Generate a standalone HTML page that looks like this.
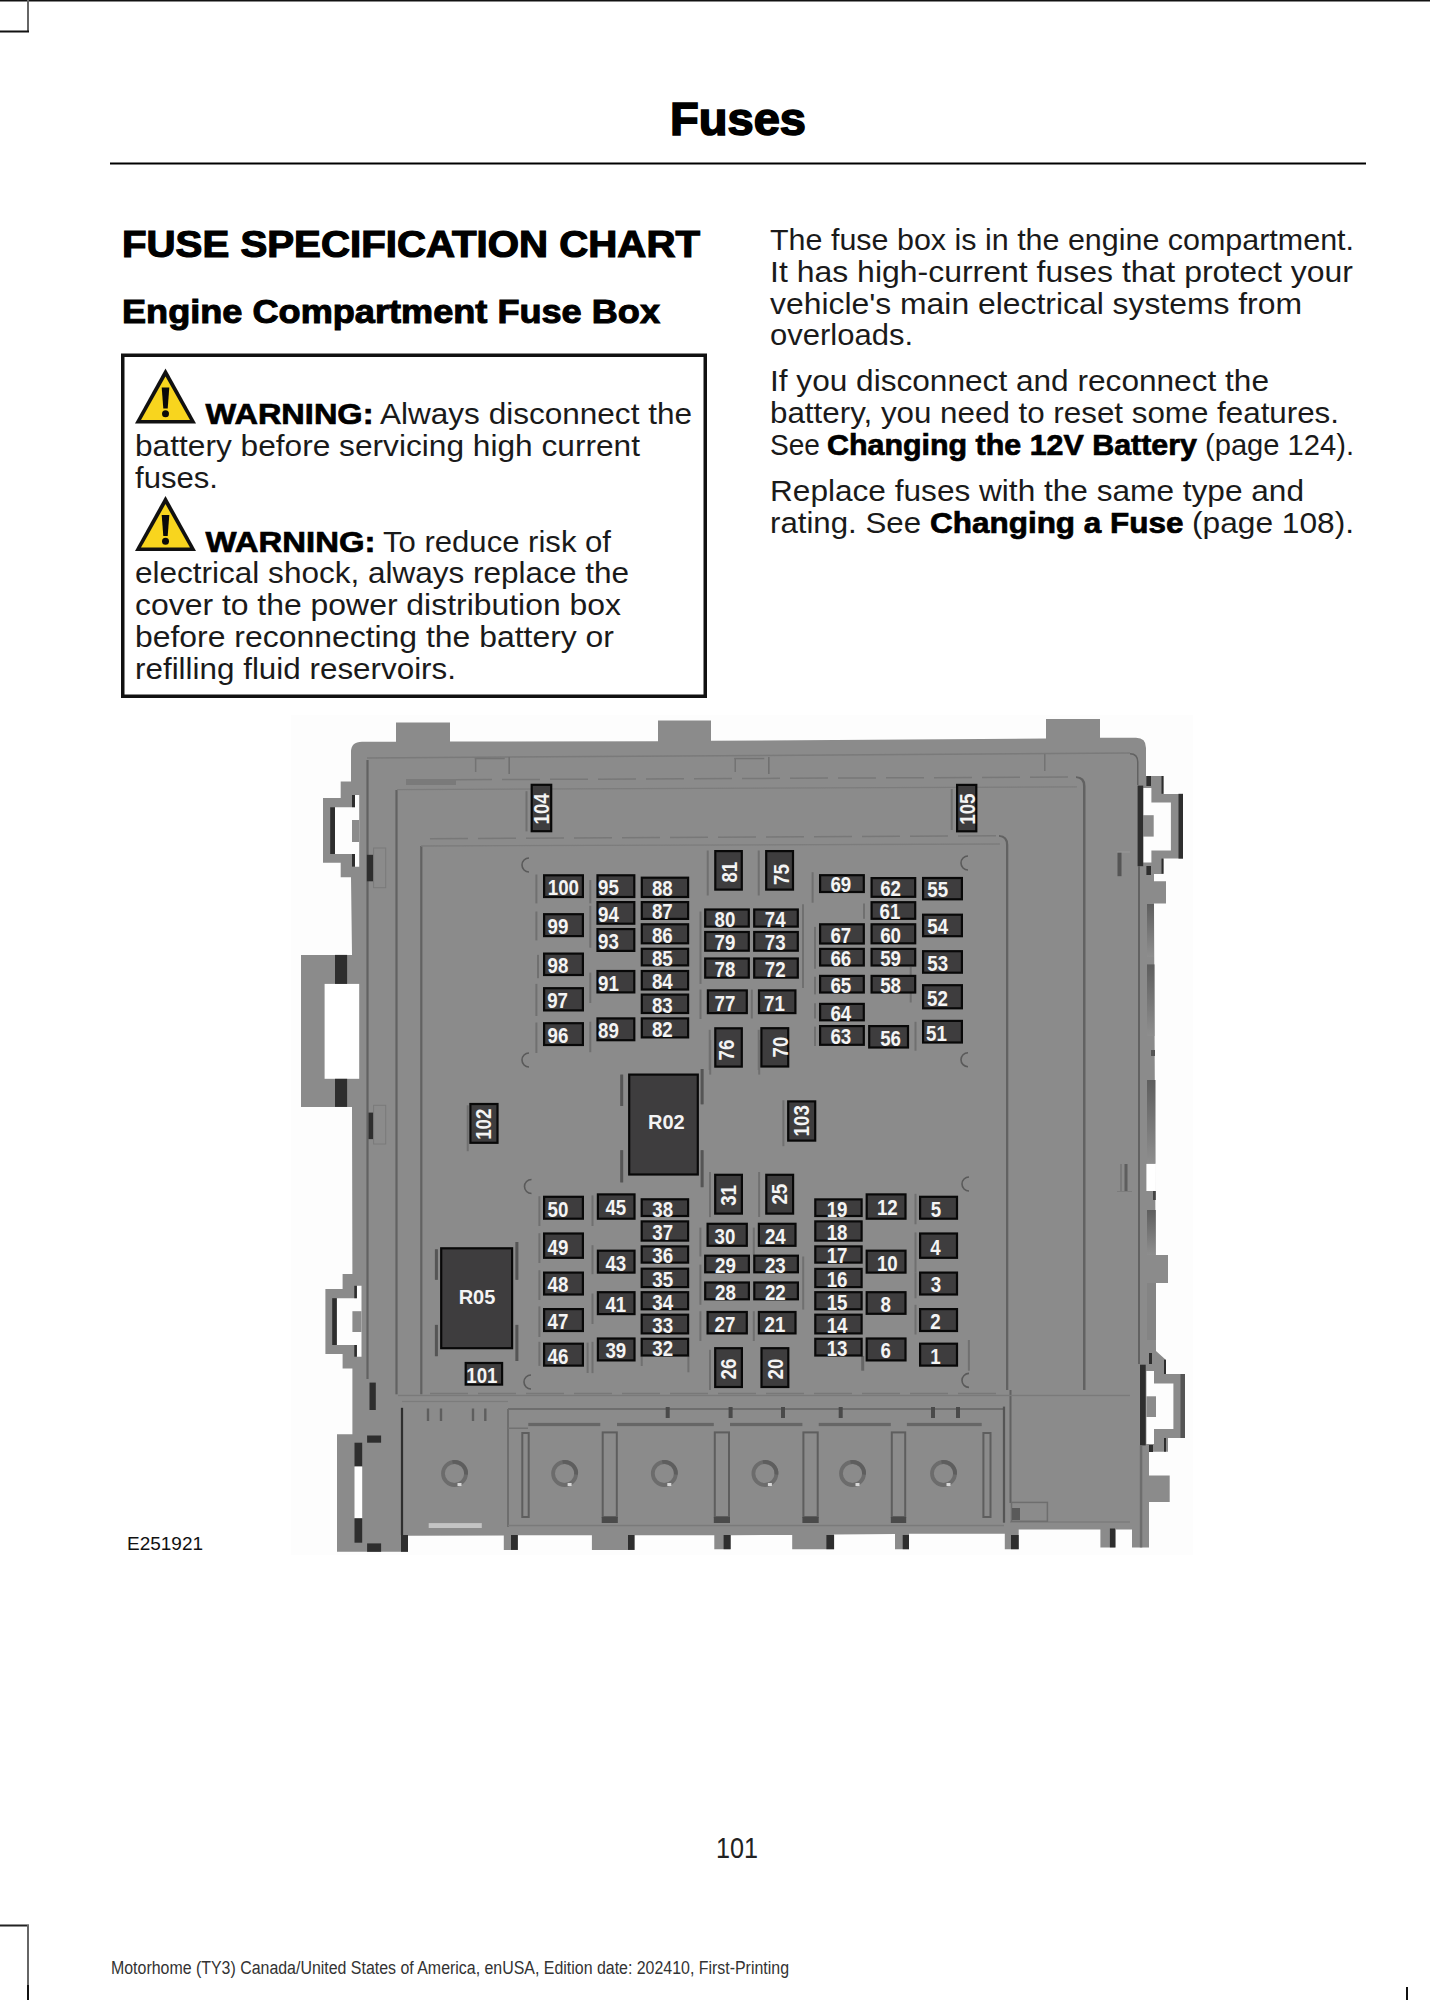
<!DOCTYPE html>
<html><head><meta charset="utf-8"><title>Fuses</title>
<style>html,body{margin:0;padding:0;background:#fff;width:1430px;height:2000px;overflow:hidden}svg{display:block}</style>
</head><body>
<svg width="1430" height="2000" viewBox="0 0 1430 2000" font-family="Liberation Sans, sans-serif">
<rect width="1430" height="2000" fill="#fff"/>
<rect x="0" y="0" width="1430" height="1.5" fill="#111"/><rect x="27" y="0" width="2" height="32" fill="#666"/><rect x="0" y="30.5" width="29" height="2" fill="#111"/><rect x="0" y="1924.5" width="29" height="2" fill="#222"/><rect x="27" y="1925" width="2" height="60" fill="#666"/><rect x="27" y="1985" width="2" height="15" fill="#111"/><rect x="1406" y="1987" width="2" height="13" fill="#111"/><text x="670" y="135" font-size="46" font-weight="bold" textLength="136" lengthAdjust="spacingAndGlyphs" stroke="#000" stroke-width="1.6">Fuses</text><rect x="110" y="162.5" width="1256" height="2" fill="#000"/><text x="122" y="257" font-size="37" font-weight="bold" textLength="578" lengthAdjust="spacingAndGlyphs" stroke="#000" stroke-width="1.2">FUSE SPECIFICATION CHART</text><text x="122" y="323" font-size="33" font-weight="bold" textLength="538" lengthAdjust="spacingAndGlyphs" stroke="#000" stroke-width="1">Engine Compartment Fuse Box</text><text x="770" y="250" font-size="30" fill="#1a1a1a" textLength="584" lengthAdjust="spacingAndGlyphs"><tspan>The fuse box is in the engine compartment.</tspan></text><text x="770" y="282" font-size="30" fill="#1a1a1a" textLength="583" lengthAdjust="spacingAndGlyphs"><tspan>It has high-current fuses that protect your</tspan></text><text x="770" y="313.5" font-size="30" fill="#1a1a1a" textLength="532" lengthAdjust="spacingAndGlyphs"><tspan>vehicle's main electrical systems from</tspan></text><text x="770" y="345" font-size="30" fill="#1a1a1a" textLength="143" lengthAdjust="spacingAndGlyphs"><tspan>overloads.</tspan></text><text x="770" y="391" font-size="30" fill="#1a1a1a" textLength="499" lengthAdjust="spacingAndGlyphs"><tspan>If you disconnect and reconnect the</tspan></text><text x="770" y="423" font-size="30" fill="#1a1a1a" textLength="569" lengthAdjust="spacingAndGlyphs"><tspan>battery, you need to reset some features.</tspan></text><text x="770" y="501" font-size="30" fill="#1a1a1a" textLength="534" lengthAdjust="spacingAndGlyphs"><tspan>Replace fuses with the same type and</tspan></text><text x="770" y="454.5" font-size="30" fill="#1a1a1a" textLength="50" lengthAdjust="spacingAndGlyphs">See</text><text x="827" y="454.5" font-size="30" font-weight="bold" fill="#000" stroke="#000" stroke-width="0.7" textLength="370" lengthAdjust="spacingAndGlyphs">Changing the 12V Battery</text><text x="1205" y="454.5" font-size="30" fill="#1a1a1a" textLength="149" lengthAdjust="spacingAndGlyphs">(page 124).</text><text x="770" y="533" font-size="30" fill="#1a1a1a" textLength="151" lengthAdjust="spacingAndGlyphs">rating.  See</text><text x="930" y="533" font-size="30" font-weight="bold" fill="#000" stroke="#000" stroke-width="0.7" textLength="253.5" lengthAdjust="spacingAndGlyphs">Changing a Fuse</text><text x="1192" y="533" font-size="30" fill="#1a1a1a" textLength="162" lengthAdjust="spacingAndGlyphs">(page 108).</text><rect x="122.75" y="355.25" width="582.5" height="341" fill="none" stroke="#111" stroke-width="3.5"/><path d="M165.5 368.5 L196.0 423.5 L135.0 423.5 Z" fill="#111"/><path d="M165.5 376.5 L190.0 420.0 L141.0 420.0 Z" fill="#f8d51e"/><path d="M161.7 387.5 L169.3 387.5 L167.7 408.5 L163.3 408.5 Z" fill="#0a0a0a"/><circle cx="165.5" cy="413.8" r="3.5" fill="#0a0a0a"/><path d="M165.5 496 L196.0 551 L135.0 551 Z" fill="#111"/><path d="M165.5 504 L190.0 547.5 L141.0 547.5 Z" fill="#f8d51e"/><path d="M161.7 515 L169.3 515 L167.7 536 L163.3 536 Z" fill="#0a0a0a"/><circle cx="165.5" cy="541.3" r="3.5" fill="#0a0a0a"/><text x="135" y="456" font-size="30" fill="#1a1a1a" textLength="505" lengthAdjust="spacingAndGlyphs"><tspan>battery before servicing high current</tspan></text><text x="135" y="487.5" font-size="30" fill="#1a1a1a" textLength="83" lengthAdjust="spacingAndGlyphs"><tspan>fuses.</tspan></text><text x="135" y="582.5" font-size="30" fill="#1a1a1a" textLength="494" lengthAdjust="spacingAndGlyphs"><tspan>electrical shock, always replace the</tspan></text><text x="135" y="614.5" font-size="30" fill="#1a1a1a" textLength="486" lengthAdjust="spacingAndGlyphs"><tspan>cover to the power distribution box</tspan></text><text x="135" y="646.5" font-size="30" fill="#1a1a1a" textLength="479" lengthAdjust="spacingAndGlyphs"><tspan>before reconnecting the battery or</tspan></text><text x="135" y="678.5" font-size="30" fill="#1a1a1a" textLength="321" lengthAdjust="spacingAndGlyphs"><tspan>refilling fluid reservoirs.</tspan></text><text x="205.5" y="423.5" font-size="30" font-weight="bold" fill="#000" stroke="#000" stroke-width="0.7" textLength="168" lengthAdjust="spacingAndGlyphs">WARNING:</text><text x="380" y="423.5" font-size="30" fill="#1a1a1a" textLength="312" lengthAdjust="spacingAndGlyphs">Always disconnect the</text><text x="205.5" y="551.5" font-size="30" font-weight="bold" fill="#000" stroke="#000" stroke-width="0.7" textLength="170" lengthAdjust="spacingAndGlyphs">WARNING:</text><text x="383" y="551.5" font-size="30" fill="#1a1a1a" textLength="228" lengthAdjust="spacingAndGlyphs">To reduce risk of</text><text x="127" y="1550" font-size="19" fill="#111" textLength="76" lengthAdjust="spacingAndGlyphs">E251921</text><text x="716" y="1858" font-size="30" fill="#222" textLength="42" lengthAdjust="spacingAndGlyphs">101</text><text x="111" y="1974" font-size="18" fill="#333" textLength="678" lengthAdjust="spacingAndGlyphs">Motorhome (TY3) Canada/United States of America, enUSA, Edition date: 202410, First-Printing</text>
<rect x="291.0" y="715.0" width="902.0" height="840.0" fill="#fdfdfd"/>
<path d="M351 752 Q351 741.8 362 741.8 L396 741.8 L396 722.5 L450 722.5 L450 741.5 L658 741.2 L658 720.5 L711 720.5 L711 740.8 L1046 738.5 L1046 719 L1100 719 L1100 737.8 L1136 737.8 Q1146 737.8 1146 748 L1146 776 L1163.5 776 L1163.5 794 L1183 794 L1183 858.6 L1163.5 858.6 L1163.5 874 L1154 874 L1154 881.3 L1166 881.3 L1166 903.4 L1154 903.4 L1156 1351 L1166 1360 L1166 1374 L1185 1374 L1185 1438 L1168 1438 L1168 1451.7 L1149 1451.7 L1149 1475.6 L1169.7 1475.6 L1169.7 1502 L1149 1502 L1149 1547.4 L1132 1547.4 L1132 1529.5 L1116 1529.5 L1116 1547.4 L1100.4 1547.4 L1100.4 1529.5 L1018.7 1529.6 L1018.7 1549.2 L1004.8 1549.2 L1004.8 1533.8 L909 1533.8 L909 1549.2 L895 1549.2 L895 1534 L834 1534.5 L834 1549.2 L792.2 1549.2 L792.2 1535 L730.6 1535.2 L730.6 1549.2 L714.3 1549.2 L714.3 1535.2 L634.5 1535.2 L634.5 1549.9 L591.9 1549.9 L591.9 1535.2 L517.8 1535.2 L517.8 1549.9 L503.8 1549.9 L503.8 1535.5 L408 1535.7 L408 1551.8 L337 1551.8 L337 1434.3 L352.4 1434.3 L352.4 1368.4 L342.6 1368.4 L342.6 1354 L325.4 1354 L325.4 1289 L342.6 1289 L342.6 1274 L352.4 1274 L352 1107 L301 1107 L301 955 L352 955 L351 877.3 L340.7 877.3 L340.7 862.8 L323 862.8 L323 798 L340.7 798 L340.7 781.6 L351 781.6 Z" fill="#8b8b8b"/>
<rect x="1150.0" y="1255.0" width="18.0" height="28.0" fill="#8b8b8b"/>
<path d="M335 807.3 L359.2 807.3 L359.2 854 L335 854 Z M352 795 L359.2 795 L359.2 807.3 L352 807.3 Z M352 854 L359.2 854 L359.2 866.8 L352 866.8 Z" fill="#fdfdfd"/>
<rect x="352.0" y="820.0" width="7.2" height="22.0" fill="#8b8b8b"/>
<rect x="330.2" y="807.3" width="4.8" height="46.7" fill="#2e2e2e"/>
<rect x="352.0" y="795.0" width="3.0" height="12.3" fill="#2e2e2e"/>
<rect x="352.0" y="854.0" width="3.0" height="12.8" fill="#2e2e2e"/>
<rect x="324.6" y="983.9" width="34.6" height="94.9" fill="#ffffff"/>
<rect x="335.0" y="954.9" width="12.1" height="29.0" fill="#2e2e2e"/>
<rect x="335.0" y="1078.8" width="12.1" height="28.1" fill="#2e2e2e"/>
<path d="M336.8 1298.2 L361.5 1298.2 L361.5 1345 L336.8 1345 Z M356.9 1285.8 L361.5 1285.8 L361.5 1298.2 L356.9 1298.2 Z M356.9 1345 L361.5 1345 L361.5 1356.7 L356.9 1356.7 Z" fill="#fdfdfd"/>
<rect x="352.4" y="1311.2" width="9.1" height="20.8" fill="#8b8b8b"/>
<rect x="332.2" y="1298.2" width="4.6" height="46.8" fill="#2e2e2e"/>
<rect x="354.3" y="1285.8" width="2.6" height="12.4" fill="#2e2e2e"/>
<rect x="354.3" y="1345.0" width="2.6" height="11.7" fill="#2e2e2e"/>
<rect x="367.1" y="1435.5" width="14.0" height="7.2" fill="#2e2e2e"/>
<rect x="354.5" y="1442.7" width="7.7" height="23.8" fill="#2e2e2e"/>
<rect x="354.5" y="1466.5" width="7.7" height="51.8" fill="#ffffff"/>
<rect x="354.5" y="1518.3" width="7.7" height="24.4" fill="#2e2e2e"/>
<rect x="367.1" y="1543.4" width="14.0" height="8.4" fill="#2e2e2e"/>
<rect x="400.9" y="1407.8" width="2.2" height="127.2" fill="#2e2e2e"/>
<rect x="401.0" y="1535.0" width="7.0" height="16.8" fill="#2e2e2e"/>
<path d="M1143.2 802.6 L1170.9 802.6 L1170.9 850.4 L1143.2 850.4 Z M1143.2 788 L1151.4 788 L1151.4 802.6 L1143.2 802.6 Z M1143.2 850.4 L1151.4 850.4 L1151.4 862.4 L1143.2 862.4 Z" fill="#fdfdfd"/>
<rect x="1143.2" y="815.2" width="10.5" height="21.4" fill="#8b8b8b"/>
<rect x="1137.6" y="785.6" width="5.6" height="80.6" fill="#2e2e2e"/>
<rect x="1178.5" y="793.8" width="4.5" height="64.8" fill="#2e2e2e"/>
<rect x="1161.5" y="776.0" width="2.0" height="17.8" fill="#2e2e2e"/>
<rect x="1161.5" y="858.6" width="2.0" height="15.1" fill="#2e2e2e"/>
<rect x="1146.4" y="776.0" width="4.6" height="10.0" fill="#2e2e2e"/>
<rect x="1146.4" y="866.0" width="4.6" height="9.0" fill="#2e2e2e"/>
<defs><linearGradient id="gb" x1="0" y1="0" x2="0" y2="1"><stop offset="0" stop-color="#5e5e5e"/><stop offset="1" stop-color="#8e8e8e"/></linearGradient></defs>
<rect x="1147.0" y="904.0" width="7.0" height="53.0" fill="url(#gb)"/>
<rect x="1147.0" y="964.4" width="7.5" height="71.6" fill="url(#gb)"/>
<rect x="1151.0" y="1050.0" width="4.0" height="6.0" fill="#555"/>
<rect x="1147.0" y="1080.0" width="8.5" height="83.8" fill="url(#gb)"/>
<rect x="1153.0" y="1191.0" width="2.8" height="9.0" fill="#444"/>
<rect x="1147.0" y="1210.0" width="8.8" height="45.0" fill="url(#gb)"/>
<rect x="1146.4" y="1163.9" width="9.4" height="27.1" fill="#ffffff"/>
<rect x="1147.0" y="1283.0" width="9.0" height="57.0" fill="#848484"/>
<path d="M1146.4 1383.6 L1173.4 1383.6 L1173.4 1429 L1146.4 1429 Z M1146.4 1371 L1154 1371 L1154 1383.6 L1146.4 1383.6 Z M1146.4 1429 L1154 1429 L1154 1444 L1146.4 1444 Z" fill="#fdfdfd"/>
<rect x="1146.4" y="1396.3" width="9.6" height="20.7" fill="#8b8b8b"/>
<rect x="1140.0" y="1364.7" width="5.7" height="80.7" fill="#2e2e2e"/>
<rect x="1180.5" y="1374.0" width="4.5" height="64.0" fill="#555555"/>
<rect x="1164.0" y="1359.7" width="2.0" height="14.3" fill="#2e2e2e"/>
<rect x="1164.0" y="1438.0" width="2.0" height="13.7" fill="#2e2e2e"/>
<rect x="1149.0" y="1353.0" width="3.0" height="11.0" fill="#2e2e2e"/>
<rect x="1149.0" y="1445.0" width="4.0" height="7.0" fill="#2e2e2e"/>
<rect x="1139.8" y="1445.4" width="2.5" height="102.0" fill="#6e6e6e"/>
<rect x="511.0" y="1535.0" width="6.8" height="14.9" fill="#2e2e2e"/>
<rect x="628.0" y="1535.0" width="6.5" height="14.9" fill="#2e2e2e"/>
<rect x="723.6" y="1535.0" width="7.0" height="14.2" fill="#2e2e2e"/>
<rect x="826.4" y="1535.0" width="7.7" height="14.2" fill="#2e2e2e"/>
<rect x="902.7" y="1535.0" width="6.3" height="14.2" fill="#2e2e2e"/>
<rect x="1011.0" y="1535.0" width="7.7" height="14.2" fill="#2e2e2e"/>
<rect x="1109.9" y="1528.5" width="5.1" height="18.9" fill="#2e2e2e"/>
<rect x="366.4" y="760.0" width="2.2" height="619.0" fill="#626262"/>
<path d="M367 758 L1130 753" stroke="#7a7a7a" stroke-width="1.5"/>
<path d="M1130 752.9 Q1138.5 753 1138.5 762 L1138.5 785 L1137 785 L1137 762 Q1137 754.5 1130 754.4 Z" fill="#626262"/>
<rect x="1138.0" y="866.0" width="2.0" height="498.0" fill="#626262"/>
<rect x="395.4" y="790.0" width="2.2" height="604.3" fill="#626262"/>
<path d="M397 789.6 L1077 786.9" stroke="#7c7c7c" stroke-width="1.3"/>
<path d="M1076 776.3 Q1085.5 776.5 1085.5 786 L1085.5 1390 L1083 1390 L1083 786 Q1083 778.5 1076 778 Z" fill="#626262"/>
<rect x="420.2" y="846.0" width="2.2" height="548.3" fill="#626262"/>
<path d="M421 846 L1000 844" stroke="#7c7c7c" stroke-width="1.3"/>
<path d="M999 835 Q1008.3 835.3 1008.3 845 L1008.3 1390 L1006 1390 L1006 845 Q1006 837.3 999 836.8 Z" fill="#626262"/>
<rect x="1009.5" y="1390.0" width="2.0" height="113.0" fill="#626262"/>
<path d="M406 780 L1077 777" stroke="#787878" stroke-width="1.5" stroke-dasharray="38 10" fill="none"/>
<path d="M430 838.7 L1000 835.8" stroke="#787878" stroke-width="1.5" stroke-dasharray="38 10" fill="none"/>
<path d="M430 1393.5 L1004 1393.5" stroke="#787878" stroke-width="1.5" stroke-dasharray="38 10" fill="none"/>
<rect x="398.0" y="1394.8" width="732.0" height="1.3" fill="#7a7a7a"/>
<rect x="402.0" y="1400.9" width="106.0" height="1.2" fill="#7c7c7c"/>
<rect x="406.0" y="779.0" width="50.0" height="6.0" fill="#7a7a7a"/>
<rect x="474.7" y="757.8" width="30.0" height="1.5" fill="#737373"/>
<rect x="474.9" y="758.0" width="1.5" height="14.0" fill="#737373"/>
<rect x="508.4" y="757.0" width="1.6" height="17.0" fill="#707070"/>
<rect x="734.3" y="757.8" width="30.0" height="1.5" fill="#737373"/>
<rect x="734.5" y="758.0" width="1.5" height="14.0" fill="#737373"/>
<rect x="768.0" y="757.0" width="1.6" height="17.0" fill="#707070"/>
<rect x="1044.0" y="754.0" width="1.5" height="17.0" fill="#737373"/>
<rect x="1117.5" y="852.3" width="4.0" height="23.9" fill="#555555"/>
<rect x="1117.0" y="851.5" width="13.0" height="1.0" fill="#9a9a9a"/>
<rect x="366.9" y="854.8" width="6.7" height="26.5" fill="#2e2e2e"/>
<rect x="373.6" y="848" width="12.1" height="39.7" fill="none" stroke="#7a7a7a" stroke-width="1"/>
<rect x="368.5" y="1112.6" width="5.1" height="26.5" fill="#2e2e2e"/>
<rect x="373.6" y="1105.3" width="12.1" height="38.7" fill="none" stroke="#7a7a7a" stroke-width="1"/>
<rect x="369.5" y="1382.6" width="6.3" height="27.4" fill="#2e2e2e"/>
<rect x="508.0" y="1408.0" width="496.0" height="2.0" fill="#6e6e6e"/>
<rect x="507.0" y="1409.0" width="2.0" height="118.0" fill="#6e6e6e"/>
<rect x="1002.9" y="1406.6" width="2.2" height="116.1" fill="#555555"/>
<rect x="528.3" y="1422.9" width="72.0" height="3.2" fill="#666666"/>
<rect x="617.0" y="1422.9" width="96.8" height="3.2" fill="#666666"/>
<rect x="730.0" y="1422.9" width="72.4" height="3.2" fill="#666666"/>
<rect x="818.7" y="1422.9" width="72.1" height="3.2" fill="#666666"/>
<rect x="906.9" y="1422.9" width="74.8" height="3.2" fill="#666666"/>
<rect x="508.0" y="1427.5" width="20.0" height="1.5" fill="#727272"/>
<rect x="508.0" y="1524.8" width="496.0" height="1.5" fill="#7a7a7a"/>
<rect x="1010.0" y="1521.4" width="120.0" height="1.2" fill="#7a7a7a"/>
<rect x="665.7" y="1407.0" width="4.0" height="11.0" fill="#4a4a4a"/>
<rect x="728.6" y="1407.0" width="4.0" height="11.0" fill="#4a4a4a"/>
<rect x="781.0" y="1407.0" width="4.0" height="11.0" fill="#4a4a4a"/>
<rect x="838.7" y="1407.0" width="4.0" height="11.0" fill="#4a4a4a"/>
<rect x="931.0" y="1407.0" width="4.0" height="11.0" fill="#4a4a4a"/>
<rect x="956.0" y="1407.0" width="4.0" height="11.0" fill="#4a4a4a"/>
<rect x="602.7" y="1432.4" width="14.099999999999909" height="84.6" fill="none" stroke="#5e5e5e" stroke-width="2"/>
<rect x="601.7" y="1517.0" width="16.1" height="6.0" fill="#4a4a4a"/>
<rect x="714.8" y="1432.4" width="14.200000000000045" height="84.6" fill="none" stroke="#5e5e5e" stroke-width="2"/>
<rect x="713.8" y="1517.0" width="16.2" height="6.0" fill="#4a4a4a"/>
<rect x="803.4" y="1432.4" width="14.300000000000068" height="84.6" fill="none" stroke="#5e5e5e" stroke-width="2"/>
<rect x="802.4" y="1517.0" width="16.3" height="6.0" fill="#4a4a4a"/>
<rect x="891.8" y="1432.4" width="13.400000000000091" height="84.6" fill="none" stroke="#5e5e5e" stroke-width="2"/>
<rect x="890.8" y="1517.0" width="15.4" height="6.0" fill="#4a4a4a"/>
<rect x="522.3" y="1433" width="6.400000000000091" height="84" fill="none" stroke="#5e5e5e" stroke-width="2"/>
<rect x="983.4" y="1433" width="7.100000000000023" height="84" fill="none" stroke="#5e5e5e" stroke-width="2"/>
<rect x="1011.5" y="1502.4" width="35.9" height="18.9" fill="none" stroke="#6e6e6e" stroke-width="1.5"/>
<rect x="1012.0" y="1508.0" width="8.0" height="12.0" fill="#5a5a5a"/>
<circle cx="454.5" cy="1473.5" r="11.5" fill="none" stroke="#6c6c6c" stroke-width="3.8"/>
<path d="M452.5 1462 A11.5 11.5 0 0 1 466.0 1474.5" fill="none" stroke="#5e5e5e" stroke-width="3.8"/>
<rect x="457.5" y="1483.0" width="4.0" height="3.0" fill="#d8d8d8"/>
<circle cx="564.6" cy="1473.5" r="11.5" fill="none" stroke="#6c6c6c" stroke-width="3.8"/>
<path d="M562.6 1462 A11.5 11.5 0 0 1 576.1 1474.5" fill="none" stroke="#5e5e5e" stroke-width="3.8"/>
<rect x="567.6" y="1483.0" width="4.0" height="3.0" fill="#d8d8d8"/>
<circle cx="664.3" cy="1473.5" r="11.5" fill="none" stroke="#6c6c6c" stroke-width="3.8"/>
<path d="M662.3 1462 A11.5 11.5 0 0 1 675.8 1474.5" fill="none" stroke="#5e5e5e" stroke-width="3.8"/>
<rect x="667.3" y="1483.0" width="4.0" height="3.0" fill="#d8d8d8"/>
<circle cx="764.9" cy="1473.5" r="11.5" fill="none" stroke="#6c6c6c" stroke-width="3.8"/>
<path d="M762.9 1462 A11.5 11.5 0 0 1 776.4 1474.5" fill="none" stroke="#5e5e5e" stroke-width="3.8"/>
<rect x="767.9" y="1483.0" width="4.0" height="3.0" fill="#d8d8d8"/>
<circle cx="852.5" cy="1473.5" r="11.5" fill="none" stroke="#6c6c6c" stroke-width="3.8"/>
<path d="M850.5 1462 A11.5 11.5 0 0 1 864.0 1474.5" fill="none" stroke="#5e5e5e" stroke-width="3.8"/>
<rect x="855.5" y="1483.0" width="4.0" height="3.0" fill="#d8d8d8"/>
<circle cx="943.5" cy="1473.5" r="11.5" fill="none" stroke="#6c6c6c" stroke-width="3.8"/>
<path d="M941.5 1462 A11.5 11.5 0 0 1 955.0 1474.5" fill="none" stroke="#5e5e5e" stroke-width="3.8"/>
<rect x="946.5" y="1483.0" width="4.0" height="3.0" fill="#d8d8d8"/>
<rect x="428.7" y="1523.1" width="53.1" height="4.9" fill="#c4c4c4"/>
<rect x="426.8" y="1408.5" width="2.4" height="12.5" fill="#5e5e5e"/>
<rect x="439.8" y="1408.5" width="2.4" height="12.5" fill="#5e5e5e"/>
<rect x="471.8" y="1408.5" width="2.4" height="12.5" fill="#5e5e5e"/>
<rect x="484.1" y="1408.5" width="2.4" height="12.5" fill="#5e5e5e"/>
<rect x="535.4" y="874.5" width="2.0" height="28.9" fill="#707070"/>
<rect x="535.4" y="911.5" width="2.0" height="28.9" fill="#707070"/>
<rect x="537.0" y="954.9" width="2.0" height="23.3" fill="#707070"/>
<rect x="535.4" y="983.9" width="2.0" height="32.1" fill="#707070"/>
<rect x="535.4" y="1022.5" width="2.0" height="30.5" fill="#707070"/>
<rect x="589.3" y="880.0" width="2.0" height="23.4" fill="#707070"/>
<rect x="589.3" y="905.8" width="2.0" height="41.9" fill="#707070"/>
<rect x="589.3" y="972.6" width="2.0" height="30.4" fill="#707070"/>
<rect x="589.3" y="1021.7" width="2.0" height="30.5" fill="#707070"/>
<rect x="706.7" y="850.5" width="2.0" height="45.0" fill="#707070"/>
<rect x="757.7" y="850.5" width="2.0" height="45.0" fill="#707070"/>
<rect x="811.6" y="872.2" width="2.0" height="30.5" fill="#707070"/>
<rect x="802.0" y="904.3" width="2.0" height="83.7" fill="#707070"/>
<rect x="699.5" y="911.5" width="2.0" height="72.4" fill="#707070"/>
<rect x="699.5" y="989.5" width="2.0" height="29.5" fill="#707070"/>
<rect x="750.8" y="989.6" width="2.0" height="28.9" fill="#707070"/>
<rect x="708.7" y="1029.8" width="2.0" height="40.2" fill="#707070"/>
<rect x="757.7" y="1029.8" width="2.0" height="40.2" fill="#707070"/>
<rect x="814.0" y="926.9" width="2.0" height="41.8" fill="#707070"/>
<rect x="814.0" y="976.7" width="2.0" height="17.7" fill="#707070"/>
<rect x="814.0" y="1003.3" width="2.0" height="15.2" fill="#707070"/>
<rect x="814.0" y="1026.6" width="2.0" height="19.4" fill="#707070"/>
<rect x="863.0" y="903.5" width="2.0" height="15.3" fill="#707070"/>
<rect x="909.7" y="967.0" width="2.0" height="35.5" fill="#707070"/>
<rect x="914.5" y="1021.8" width="2.0" height="28.9" fill="#707070"/>
<rect x="802.2" y="1256.5" width="2.0" height="53.1" fill="#707070"/>
<rect x="914.5" y="1193.8" width="2.0" height="30.5" fill="#707070"/>
<rect x="914.5" y="1232.4" width="2.0" height="40.2" fill="#707070"/>
<rect x="914.5" y="1272.6" width="2.0" height="25.7" fill="#707070"/>
<rect x="914.5" y="1304.8" width="2.0" height="29.7" fill="#707070"/>
<rect x="967.9" y="1340.0" width="2.0" height="30.7" fill="#707070"/>
<rect x="709.0" y="1172.0" width="2.0" height="45.1" fill="#707070"/>
<rect x="758.1" y="1172.0" width="2.0" height="45.0" fill="#707070"/>
<rect x="699.4" y="1227.6" width="2.0" height="28.9" fill="#707070"/>
<rect x="699.4" y="1264.6" width="2.0" height="40.2" fill="#707070"/>
<rect x="699.4" y="1311.2" width="2.0" height="29.8" fill="#707070"/>
<rect x="752.8" y="1227.6" width="2.0" height="27.3" fill="#707070"/>
<rect x="752.8" y="1311.2" width="2.0" height="29.8" fill="#707070"/>
<rect x="709.0" y="1349.8" width="2.0" height="40.2" fill="#707070"/>
<rect x="687.4" y="1356.0" width="2.0" height="16.3" fill="#707070"/>
<rect x="640.7" y="1356.0" width="2.0" height="10.0" fill="#707070"/>
<rect x="538.4" y="1196.2" width="2.0" height="29.8" fill="#707070"/>
<rect x="538.4" y="1233.2" width="2.0" height="29.8" fill="#707070"/>
<rect x="538.4" y="1270.2" width="2.0" height="29.8" fill="#707070"/>
<rect x="538.4" y="1306.4" width="2.0" height="30.6" fill="#707070"/>
<rect x="538.4" y="1341.8" width="2.0" height="24.1" fill="#707070"/>
<rect x="591.5" y="1195.4" width="2.0" height="30.6" fill="#707070"/>
<rect x="591.5" y="1245.2" width="2.0" height="29.0" fill="#707070"/>
<rect x="591.5" y="1293.5" width="2.0" height="30.5" fill="#707070"/>
<rect x="591.5" y="1341.8" width="2.0" height="31.3" fill="#707070"/>
<rect x="586.6" y="1342.6" width="2.0" height="30.4" fill="#707070"/>
<rect x="435.4" y="1249.3" width="2.0" height="30.5" fill="#707070"/>
<rect x="435.4" y="1324.9" width="2.0" height="31.3" fill="#707070"/>
<rect x="515.9" y="1242.0" width="2.0" height="37.8" fill="#707070"/>
<rect x="515.9" y="1324.9" width="2.0" height="36.1" fill="#707070"/>
<rect x="620.7" y="1074.6" width="2.0" height="31.4" fill="#707070"/>
<rect x="620.7" y="1150.2" width="2.0" height="32.2" fill="#707070"/>
<rect x="701.1" y="1069.0" width="2.0" height="35.3" fill="#707070"/>
<rect x="701.1" y="1150.2" width="2.0" height="37.0" fill="#707070"/>
<rect x="709.2" y="1040.0" width="2.0" height="34.6" fill="#707070"/>
<rect x="758.2" y="1040.0" width="2.0" height="34.6" fill="#707070"/>
<rect x="782.4" y="1100.3" width="2.0" height="45.9" fill="#707070"/>
<rect x="466.7" y="1105.3" width="2.0" height="45.9" fill="#707070"/>
<rect x="525.5" y="791.2" width="2.0" height="40.2" fill="#707070"/>
<rect x="950.7" y="789.0" width="2.0" height="41.0" fill="#707070"/>
<rect x="861.2" y="1356.0" width="3.0" height="14.7" fill="#666666"/>
<rect x="434.9" y="1249.3" width="3.0" height="30.5" fill="#555555"/>
<rect x="434.9" y="1324.9" width="3.0" height="31.3" fill="#555555"/>
<rect x="515.4" y="1242.0" width="3.0" height="37.8" fill="#555555"/>
<rect x="515.4" y="1324.9" width="3.0" height="36.1" fill="#555555"/>
<rect x="620.2" y="1074.6" width="3.0" height="31.4" fill="#555555"/>
<rect x="620.2" y="1150.2" width="3.0" height="32.2" fill="#555555"/>
<rect x="700.6" y="1069.0" width="3.0" height="35.3" fill="#555555"/>
<rect x="700.6" y="1150.2" width="3.0" height="37.0" fill="#555555"/>
<rect x="1120.0" y="1164.0" width="2.0" height="27.0" fill="#7a7a7a"/>
<rect x="1124.5" y="1164.0" width="3.0" height="27.0" fill="#5e5e5e"/>
<rect x="1117.0" y="1191.0" width="15.0" height="1.0" fill="#7c7c7c"/>
<path d="M529 858 A7 7 0 0 0 529 872" fill="none" stroke="#5a5a5a" stroke-width="1.6"/>
<path d="M968 856 A7 7 0 0 0 968 870" fill="none" stroke="#5a5a5a" stroke-width="1.6"/>
<path d="M531.5 1179.5 A7 7 0 0 0 531.5 1193.5" fill="none" stroke="#5a5a5a" stroke-width="1.6"/>
<path d="M969 1177 A7 7 0 0 0 969 1191" fill="none" stroke="#5a5a5a" stroke-width="1.6"/>
<path d="M968 1052.7 A7 7 0 0 0 968 1066.7" fill="none" stroke="#5a5a5a" stroke-width="1.6"/>
<path d="M531 1375 A7 7 0 0 0 531 1389" fill="none" stroke="#5a5a5a" stroke-width="1.6"/>
<path d="M969 1373.4 A7 7 0 0 0 969 1387.4" fill="none" stroke="#5a5a5a" stroke-width="1.6"/>
<path d="M529 1053 A7 7 0 0 0 529 1067" fill="none" stroke="#5a5a5a" stroke-width="1.6"/>
<rect x="531.70" y="784.80" width="19.50" height="46.40" fill="#3e3d3e" stroke="#080808" stroke-width="2.2"/>
<rect x="957.10" y="784.90" width="19.20" height="46.40" fill="#3e3d3e" stroke="#080808" stroke-width="2.2"/>
<rect x="544.10" y="875.30" width="38.80" height="21.70" fill="#3e3d3e" stroke="#080808" stroke-width="2.2"/>
<rect x="544.10" y="914.20" width="38.80" height="21.90" fill="#3e3d3e" stroke="#080808" stroke-width="2.2"/>
<rect x="544.10" y="953.60" width="38.80" height="21.40" fill="#3e3d3e" stroke="#080808" stroke-width="2.2"/>
<rect x="544.10" y="988.20" width="38.80" height="22.20" fill="#3e3d3e" stroke="#080808" stroke-width="2.2"/>
<rect x="544.10" y="1023.20" width="38.80" height="21.80" fill="#3e3d3e" stroke="#080808" stroke-width="2.2"/>
<rect x="597.50" y="875.30" width="36.80" height="21.70" fill="#3e3d3e" stroke="#080808" stroke-width="2.2"/>
<rect x="597.50" y="902.10" width="36.80" height="21.60" fill="#3e3d3e" stroke="#080808" stroke-width="2.2"/>
<rect x="597.50" y="929.10" width="36.80" height="21.80" fill="#3e3d3e" stroke="#080808" stroke-width="2.2"/>
<rect x="597.50" y="971.00" width="36.80" height="21.40" fill="#3e3d3e" stroke="#080808" stroke-width="2.2"/>
<rect x="597.50" y="1018.40" width="36.80" height="21.80" fill="#3e3d3e" stroke="#080808" stroke-width="2.2"/>
<rect x="641.80" y="877.70" width="46.30" height="19.30" fill="#3e3d3e" stroke="#080808" stroke-width="2.2"/>
<rect x="641.80" y="902.10" width="46.30" height="16.80" fill="#3e3d3e" stroke="#080808" stroke-width="2.2"/>
<rect x="641.80" y="924.30" width="46.30" height="19.00" fill="#3e3d3e" stroke="#080808" stroke-width="2.2"/>
<rect x="641.80" y="948.80" width="46.30" height="16.60" fill="#3e3d3e" stroke="#080808" stroke-width="2.2"/>
<rect x="641.80" y="971.00" width="46.30" height="18.50" fill="#3e3d3e" stroke="#080808" stroke-width="2.2"/>
<rect x="641.80" y="994.60" width="46.30" height="18.40" fill="#3e3d3e" stroke="#080808" stroke-width="2.2"/>
<rect x="641.80" y="1018.40" width="46.30" height="19.00" fill="#3e3d3e" stroke="#080808" stroke-width="2.2"/>
<rect x="715.30" y="851.10" width="26.50" height="38.50" fill="#3e3d3e" stroke="#080808" stroke-width="2.2"/>
<rect x="766.20" y="851.10" width="26.80" height="38.50" fill="#3e3d3e" stroke="#080808" stroke-width="2.2"/>
<rect x="705.20" y="909.50" width="43.60" height="17.10" fill="#3e3d3e" stroke="#080808" stroke-width="2.2"/>
<rect x="705.20" y="932.00" width="43.60" height="18.70" fill="#3e3d3e" stroke="#080808" stroke-width="2.2"/>
<rect x="705.20" y="958.50" width="43.60" height="19.10" fill="#3e3d3e" stroke="#080808" stroke-width="2.2"/>
<rect x="707.90" y="990.40" width="38.90" height="22.70" fill="#3e3d3e" stroke="#080808" stroke-width="2.2"/>
<rect x="715.30" y="1028.30" width="26.50" height="38.30" fill="#3e3d3e" stroke="#080808" stroke-width="2.2"/>
<rect x="754.20" y="909.50" width="43.60" height="17.10" fill="#3e3d3e" stroke="#080808" stroke-width="2.2"/>
<rect x="754.20" y="932.00" width="43.60" height="18.70" fill="#3e3d3e" stroke="#080808" stroke-width="2.2"/>
<rect x="754.20" y="958.50" width="43.60" height="19.10" fill="#3e3d3e" stroke="#080808" stroke-width="2.2"/>
<rect x="759.00" y="990.40" width="36.40" height="22.70" fill="#3e3d3e" stroke="#080808" stroke-width="2.2"/>
<rect x="761.40" y="1028.20" width="26.80" height="38.30" fill="#3e3d3e" stroke="#080808" stroke-width="2.2"/>
<rect x="820.10" y="875.20" width="43.70" height="16.80" fill="#3e3d3e" stroke="#080808" stroke-width="2.2"/>
<rect x="820.10" y="924.30" width="43.70" height="19.20" fill="#3e3d3e" stroke="#080808" stroke-width="2.2"/>
<rect x="820.10" y="948.90" width="43.70" height="16.60" fill="#3e3d3e" stroke="#080808" stroke-width="2.2"/>
<rect x="820.10" y="975.90" width="43.70" height="16.60" fill="#3e3d3e" stroke="#080808" stroke-width="2.2"/>
<rect x="820.10" y="1003.90" width="43.70" height="16.40" fill="#3e3d3e" stroke="#080808" stroke-width="2.2"/>
<rect x="820.10" y="1026.10" width="43.70" height="18.70" fill="#3e3d3e" stroke="#080808" stroke-width="2.2"/>
<rect x="871.60" y="878.10" width="43.60" height="18.70" fill="#3e3d3e" stroke="#080808" stroke-width="2.2"/>
<rect x="871.60" y="902.20" width="43.60" height="16.60" fill="#3e3d3e" stroke="#080808" stroke-width="2.2"/>
<rect x="871.60" y="924.30" width="43.60" height="19.00" fill="#3e3d3e" stroke="#080808" stroke-width="2.2"/>
<rect x="871.60" y="948.90" width="43.60" height="16.60" fill="#3e3d3e" stroke="#080808" stroke-width="2.2"/>
<rect x="871.60" y="975.90" width="43.60" height="16.60" fill="#3e3d3e" stroke="#080808" stroke-width="2.2"/>
<rect x="869.20" y="1026.10" width="38.80" height="21.40" fill="#3e3d3e" stroke="#080808" stroke-width="2.2"/>
<rect x="923.10" y="878.00" width="38.80" height="21.30" fill="#3e3d3e" stroke="#080808" stroke-width="2.2"/>
<rect x="923.10" y="914.70" width="38.80" height="21.50" fill="#3e3d3e" stroke="#080808" stroke-width="2.2"/>
<rect x="923.10" y="951.20" width="38.80" height="21.50" fill="#3e3d3e" stroke="#080808" stroke-width="2.2"/>
<rect x="923.10" y="985.20" width="38.80" height="23.10" fill="#3e3d3e" stroke="#080808" stroke-width="2.2"/>
<rect x="923.10" y="1020.90" width="38.80" height="21.60" fill="#3e3d3e" stroke="#080808" stroke-width="2.2"/>
<rect x="470.40" y="1104.00" width="27.10" height="38.80" fill="#3e3d3e" stroke="#080808" stroke-width="2.2"/>
<rect x="788.20" y="1101.40" width="27.00" height="39.20" fill="#3e3d3e" stroke="#080808" stroke-width="2.2"/>
<rect x="629.20" y="1074.60" width="68.60" height="99.90" fill="#3e3d3e" stroke="#080808" stroke-width="2.2"/>
<rect x="441.20" y="1248.30" width="70.90" height="99.90" fill="#3e3d3e" stroke="#080808" stroke-width="2.2"/>
<rect x="465.70" y="1363.00" width="36.40" height="21.60" fill="#3e3d3e" stroke="#080808" stroke-width="2.2"/>
<rect x="544.10" y="1196.80" width="38.80" height="21.90" fill="#3e3d3e" stroke="#080808" stroke-width="2.2"/>
<rect x="544.10" y="1233.50" width="38.80" height="24.30" fill="#3e3d3e" stroke="#080808" stroke-width="2.2"/>
<rect x="544.10" y="1272.60" width="38.80" height="21.90" fill="#3e3d3e" stroke="#080808" stroke-width="2.2"/>
<rect x="544.10" y="1309.10" width="38.80" height="21.90" fill="#3e3d3e" stroke="#080808" stroke-width="2.2"/>
<rect x="544.10" y="1343.70" width="38.80" height="21.90" fill="#3e3d3e" stroke="#080808" stroke-width="2.2"/>
<rect x="597.90" y="1194.40" width="36.60" height="24.30" fill="#3e3d3e" stroke="#080808" stroke-width="2.2"/>
<rect x="597.90" y="1250.70" width="36.60" height="21.90" fill="#3e3d3e" stroke="#080808" stroke-width="2.2"/>
<rect x="597.90" y="1292.20" width="36.60" height="21.90" fill="#3e3d3e" stroke="#080808" stroke-width="2.2"/>
<rect x="597.90" y="1338.50" width="36.60" height="21.90" fill="#3e3d3e" stroke="#080808" stroke-width="2.2"/>
<rect x="641.70" y="1199.30" width="46.40" height="16.70" fill="#3e3d3e" stroke="#080808" stroke-width="2.2"/>
<rect x="641.70" y="1221.40" width="46.40" height="19.20" fill="#3e3d3e" stroke="#080808" stroke-width="2.2"/>
<rect x="641.70" y="1246.40" width="46.40" height="16.20" fill="#3e3d3e" stroke="#080808" stroke-width="2.2"/>
<rect x="641.70" y="1268.70" width="46.40" height="18.40" fill="#3e3d3e" stroke="#080808" stroke-width="2.2"/>
<rect x="641.70" y="1292.20" width="46.40" height="17.10" fill="#3e3d3e" stroke="#080808" stroke-width="2.2"/>
<rect x="641.70" y="1314.70" width="46.40" height="18.70" fill="#3e3d3e" stroke="#080808" stroke-width="2.2"/>
<rect x="641.70" y="1338.80" width="46.40" height="16.70" fill="#3e3d3e" stroke="#080808" stroke-width="2.2"/>
<rect x="715.20" y="1174.80" width="26.70" height="38.80" fill="#3e3d3e" stroke="#080808" stroke-width="2.2"/>
<rect x="766.30" y="1174.80" width="26.80" height="38.80" fill="#3e3d3e" stroke="#080808" stroke-width="2.2"/>
<rect x="707.60" y="1223.80" width="39.20" height="22.00" fill="#3e3d3e" stroke="#080808" stroke-width="2.2"/>
<rect x="758.90" y="1223.80" width="36.60" height="22.00" fill="#3e3d3e" stroke="#080808" stroke-width="2.2"/>
<rect x="705.20" y="1255.70" width="43.70" height="16.60" fill="#3e3d3e" stroke="#080808" stroke-width="2.2"/>
<rect x="754.30" y="1255.70" width="43.60" height="16.60" fill="#3e3d3e" stroke="#080808" stroke-width="2.2"/>
<rect x="705.20" y="1282.50" width="43.70" height="16.80" fill="#3e3d3e" stroke="#080808" stroke-width="2.2"/>
<rect x="754.30" y="1282.50" width="43.60" height="16.80" fill="#3e3d3e" stroke="#080808" stroke-width="2.2"/>
<rect x="707.60" y="1312.00" width="39.20" height="21.40" fill="#3e3d3e" stroke="#080808" stroke-width="2.2"/>
<rect x="758.90" y="1312.00" width="36.60" height="21.40" fill="#3e3d3e" stroke="#080808" stroke-width="2.2"/>
<rect x="715.20" y="1348.20" width="26.70" height="38.80" fill="#3e3d3e" stroke="#080808" stroke-width="2.2"/>
<rect x="761.50" y="1348.20" width="26.80" height="38.80" fill="#3e3d3e" stroke="#080808" stroke-width="2.2"/>
<rect x="815.30" y="1199.40" width="46.30" height="16.60" fill="#3e3d3e" stroke="#080808" stroke-width="2.2"/>
<rect x="815.30" y="1221.40" width="46.30" height="19.20" fill="#3e3d3e" stroke="#080808" stroke-width="2.2"/>
<rect x="815.30" y="1246.40" width="46.30" height="16.20" fill="#3e3d3e" stroke="#080808" stroke-width="2.2"/>
<rect x="815.30" y="1268.90" width="46.30" height="18.20" fill="#3e3d3e" stroke="#080808" stroke-width="2.2"/>
<rect x="815.30" y="1292.20" width="46.30" height="17.10" fill="#3e3d3e" stroke="#080808" stroke-width="2.2"/>
<rect x="815.30" y="1314.70" width="46.30" height="18.70" fill="#3e3d3e" stroke="#080808" stroke-width="2.2"/>
<rect x="815.30" y="1338.80" width="46.30" height="16.70" fill="#3e3d3e" stroke="#080808" stroke-width="2.2"/>
<rect x="866.70" y="1194.40" width="38.80" height="24.30" fill="#3e3d3e" stroke="#080808" stroke-width="2.2"/>
<rect x="866.70" y="1250.70" width="38.80" height="21.90" fill="#3e3d3e" stroke="#080808" stroke-width="2.2"/>
<rect x="866.70" y="1292.20" width="38.80" height="21.60" fill="#3e3d3e" stroke="#080808" stroke-width="2.2"/>
<rect x="866.70" y="1338.50" width="38.80" height="21.90" fill="#3e3d3e" stroke="#080808" stroke-width="2.2"/>
<rect x="920.10" y="1196.80" width="36.90" height="21.90" fill="#3e3d3e" stroke="#080808" stroke-width="2.2"/>
<rect x="920.10" y="1233.50" width="36.90" height="24.30" fill="#3e3d3e" stroke="#080808" stroke-width="2.2"/>
<rect x="920.10" y="1272.60" width="36.90" height="21.90" fill="#3e3d3e" stroke="#080808" stroke-width="2.2"/>
<rect x="920.10" y="1309.10" width="36.90" height="21.90" fill="#3e3d3e" stroke="#080808" stroke-width="2.2"/>
<rect x="920.10" y="1343.70" width="36.90" height="21.90" fill="#3e3d3e" stroke="#080808" stroke-width="2.2"/>
<g font-family="Liberation Sans, sans-serif" font-weight="bold" font-size="22" fill="#f4f4f4"><text transform="translate(540.7 808.9) rotate(-90)" x="-15.6" y="8" textLength="31.2" lengthAdjust="spacingAndGlyphs">104</text><text transform="translate(967.0 809.1) rotate(-90)" x="-15.6" y="8" textLength="31.2" lengthAdjust="spacingAndGlyphs">105</text><text x="547.8" y="895.0" textLength="31.2" lengthAdjust="spacingAndGlyphs">100</text><text x="547.6" y="934.0" textLength="20.8" lengthAdjust="spacingAndGlyphs">99</text><text x="547.6" y="973.1" textLength="20.8" lengthAdjust="spacingAndGlyphs">98</text><text x="547.2" y="1008.1" textLength="20.8" lengthAdjust="spacingAndGlyphs">97</text><text x="547.6" y="1042.9" textLength="20.8" lengthAdjust="spacingAndGlyphs">96</text><text x="598.1" y="895.0" textLength="20.8" lengthAdjust="spacingAndGlyphs">95</text><text x="598.1" y="921.7" textLength="20.8" lengthAdjust="spacingAndGlyphs">94</text><text x="598.1" y="948.8" textLength="20.8" lengthAdjust="spacingAndGlyphs">93</text><text x="598.1" y="990.5" textLength="20.8" lengthAdjust="spacingAndGlyphs">91</text><text x="598.1" y="1038.1" textLength="20.8" lengthAdjust="spacingAndGlyphs">89</text><text x="651.9" y="896.1" textLength="20.8" lengthAdjust="spacingAndGlyphs">88</text><text x="651.9" y="919.3" textLength="20.8" lengthAdjust="spacingAndGlyphs">87</text><text x="651.9" y="942.6" textLength="20.8" lengthAdjust="spacingAndGlyphs">86</text><text x="651.9" y="965.9" textLength="20.8" lengthAdjust="spacingAndGlyphs">85</text><text x="651.9" y="989.0" textLength="20.8" lengthAdjust="spacingAndGlyphs">84</text><text x="651.9" y="1012.6" textLength="20.8" lengthAdjust="spacingAndGlyphs">83</text><text x="651.9" y="1036.7" textLength="20.8" lengthAdjust="spacingAndGlyphs">82</text><text transform="translate(729.3 872.2) rotate(-90)" x="-10.4" y="8" textLength="20.8" lengthAdjust="spacingAndGlyphs">81</text><text transform="translate(780.5 874.6) rotate(-90)" x="-10.4" y="8" textLength="20.8" lengthAdjust="spacingAndGlyphs">75</text><text x="714.6" y="926.8" textLength="20.8" lengthAdjust="spacingAndGlyphs">80</text><text x="714.6" y="950.1" textLength="20.8" lengthAdjust="spacingAndGlyphs">79</text><text x="714.6" y="976.8" textLength="20.8" lengthAdjust="spacingAndGlyphs">78</text><text x="714.6" y="1010.5" textLength="20.8" lengthAdjust="spacingAndGlyphs">77</text><text transform="translate(726.2 1050.0) rotate(-90)" x="-10.4" y="8" textLength="20.8" lengthAdjust="spacingAndGlyphs">76</text><text x="764.8" y="926.8" textLength="20.8" lengthAdjust="spacingAndGlyphs">74</text><text x="764.8" y="950.1" textLength="20.8" lengthAdjust="spacingAndGlyphs">73</text><text x="764.8" y="976.8" textLength="20.8" lengthAdjust="spacingAndGlyphs">72</text><text x="764.0" y="1010.5" textLength="20.8" lengthAdjust="spacingAndGlyphs">71</text><text transform="translate(780.0 1047.1) rotate(-90)" x="-10.4" y="8" textLength="20.8" lengthAdjust="spacingAndGlyphs">70</text><text x="830.4" y="892.4" textLength="20.8" lengthAdjust="spacingAndGlyphs">69</text><text x="830.4" y="942.7" textLength="20.8" lengthAdjust="spacingAndGlyphs">67</text><text x="830.4" y="966.0" textLength="20.8" lengthAdjust="spacingAndGlyphs">66</text><text x="830.4" y="993.0" textLength="20.8" lengthAdjust="spacingAndGlyphs">65</text><text x="830.4" y="1020.9" textLength="20.8" lengthAdjust="spacingAndGlyphs">64</text><text x="830.4" y="1044.2" textLength="20.8" lengthAdjust="spacingAndGlyphs">63</text><text x="880.2" y="896.2" textLength="20.8" lengthAdjust="spacingAndGlyphs">62</text><text x="879.6" y="919.3" textLength="20.8" lengthAdjust="spacingAndGlyphs">61</text><text x="880.2" y="942.6" textLength="20.8" lengthAdjust="spacingAndGlyphs">60</text><text x="880.2" y="966.0" textLength="20.8" lengthAdjust="spacingAndGlyphs">59</text><text x="880.2" y="993.0" textLength="20.8" lengthAdjust="spacingAndGlyphs">58</text><text x="880.2" y="1045.6" textLength="20.8" lengthAdjust="spacingAndGlyphs">56</text><text x="927.3" y="897.4" textLength="20.8" lengthAdjust="spacingAndGlyphs">55</text><text x="927.3" y="934.2" textLength="20.8" lengthAdjust="spacingAndGlyphs">54</text><text x="927.3" y="970.8" textLength="20.8" lengthAdjust="spacingAndGlyphs">53</text><text x="927.0" y="1005.5" textLength="20.8" lengthAdjust="spacingAndGlyphs">52</text><text x="926.0" y="1040.5" textLength="20.8" lengthAdjust="spacingAndGlyphs">51</text><text transform="translate(483.0 1124.2) rotate(-90)" x="-15.6" y="8" textLength="31.2" lengthAdjust="spacingAndGlyphs">102</text><text transform="translate(800.6 1120.8) rotate(-90)" x="-15.6" y="8" textLength="31.2" lengthAdjust="spacingAndGlyphs">103</text><text x="666.3" y="1128.8" text-anchor="middle" font-size="20">R02</text><text x="477.0" y="1303.5" text-anchor="middle" font-size="20">R05</text><text x="466.3" y="1382.6" textLength="31.2" lengthAdjust="spacingAndGlyphs">101</text><text x="547.5" y="1216.5" textLength="20.8" lengthAdjust="spacingAndGlyphs">50</text><text x="547.5" y="1254.5" textLength="20.8" lengthAdjust="spacingAndGlyphs">49</text><text x="547.5" y="1292.3" textLength="20.8" lengthAdjust="spacingAndGlyphs">48</text><text x="547.5" y="1328.8" textLength="20.8" lengthAdjust="spacingAndGlyphs">47</text><text x="547.5" y="1363.5" textLength="20.8" lengthAdjust="spacingAndGlyphs">46</text><text x="605.4" y="1215.3" textLength="20.8" lengthAdjust="spacingAndGlyphs">45</text><text x="605.4" y="1270.5" textLength="20.8" lengthAdjust="spacingAndGlyphs">43</text><text x="605.4" y="1312.0" textLength="20.8" lengthAdjust="spacingAndGlyphs">41</text><text x="605.4" y="1358.2" textLength="20.8" lengthAdjust="spacingAndGlyphs">39</text><text x="652.3" y="1216.5" textLength="20.8" lengthAdjust="spacingAndGlyphs">38</text><text x="652.3" y="1239.8" textLength="20.8" lengthAdjust="spacingAndGlyphs">37</text><text x="652.3" y="1263.3" textLength="20.8" lengthAdjust="spacingAndGlyphs">36</text><text x="652.3" y="1286.7" textLength="20.8" lengthAdjust="spacingAndGlyphs">35</text><text x="652.3" y="1309.5" textLength="20.8" lengthAdjust="spacingAndGlyphs">34</text><text x="652.3" y="1332.8" textLength="20.8" lengthAdjust="spacingAndGlyphs">33</text><text x="652.3" y="1356.0" textLength="20.8" lengthAdjust="spacingAndGlyphs">32</text><text transform="translate(728.2 1195.4) rotate(-90)" x="-10.4" y="8" textLength="20.8" lengthAdjust="spacingAndGlyphs">31</text><text transform="translate(779.2 1194.2) rotate(-90)" x="-10.4" y="8" textLength="20.8" lengthAdjust="spacingAndGlyphs">25</text><text x="714.6" y="1243.6" textLength="20.8" lengthAdjust="spacingAndGlyphs">30</text><text x="764.9" y="1243.6" textLength="20.8" lengthAdjust="spacingAndGlyphs">24</text><text x="715.0" y="1272.8" textLength="20.8" lengthAdjust="spacingAndGlyphs">29</text><text x="764.9" y="1272.8" textLength="20.8" lengthAdjust="spacingAndGlyphs">23</text><text x="715.0" y="1299.7" textLength="20.8" lengthAdjust="spacingAndGlyphs">28</text><text x="764.9" y="1299.7" textLength="20.8" lengthAdjust="spacingAndGlyphs">22</text><text x="714.6" y="1331.5" textLength="20.8" lengthAdjust="spacingAndGlyphs">27</text><text x="764.6" y="1331.5" textLength="20.8" lengthAdjust="spacingAndGlyphs">21</text><text transform="translate(728.2 1369.1) rotate(-90)" x="-10.4" y="8" textLength="20.8" lengthAdjust="spacingAndGlyphs">26</text><text transform="translate(774.9 1369.1) rotate(-90)" x="-10.4" y="8" textLength="20.8" lengthAdjust="spacingAndGlyphs">20</text><text x="826.7" y="1216.5" textLength="20.8" lengthAdjust="spacingAndGlyphs">19</text><text x="826.7" y="1239.8" textLength="20.8" lengthAdjust="spacingAndGlyphs">18</text><text x="826.7" y="1263.3" textLength="20.8" lengthAdjust="spacingAndGlyphs">17</text><text x="826.7" y="1286.8" textLength="20.8" lengthAdjust="spacingAndGlyphs">16</text><text x="826.7" y="1309.5" textLength="20.8" lengthAdjust="spacingAndGlyphs">15</text><text x="826.7" y="1332.8" textLength="20.8" lengthAdjust="spacingAndGlyphs">14</text><text x="826.7" y="1356.0" textLength="20.8" lengthAdjust="spacingAndGlyphs">13</text><text x="876.9" y="1215.3" textLength="20.8" lengthAdjust="spacingAndGlyphs">12</text><text x="876.9" y="1270.5" textLength="20.8" lengthAdjust="spacingAndGlyphs">10</text><text x="880.4" y="1311.8" textLength="10.4" lengthAdjust="spacingAndGlyphs">8</text><text x="880.4" y="1358.2" textLength="10.4" lengthAdjust="spacingAndGlyphs">6</text><text x="930.7" y="1216.5" textLength="10.4" lengthAdjust="spacingAndGlyphs">5</text><text x="930.3" y="1254.5" textLength="10.4" lengthAdjust="spacingAndGlyphs">4</text><text x="930.8" y="1292.3" textLength="10.4" lengthAdjust="spacingAndGlyphs">3</text><text x="930.3" y="1328.8" textLength="10.4" lengthAdjust="spacingAndGlyphs">2</text><text x="930.3" y="1363.5" textLength="10.4" lengthAdjust="spacingAndGlyphs">1</text></g>
</svg>
</body></html>
